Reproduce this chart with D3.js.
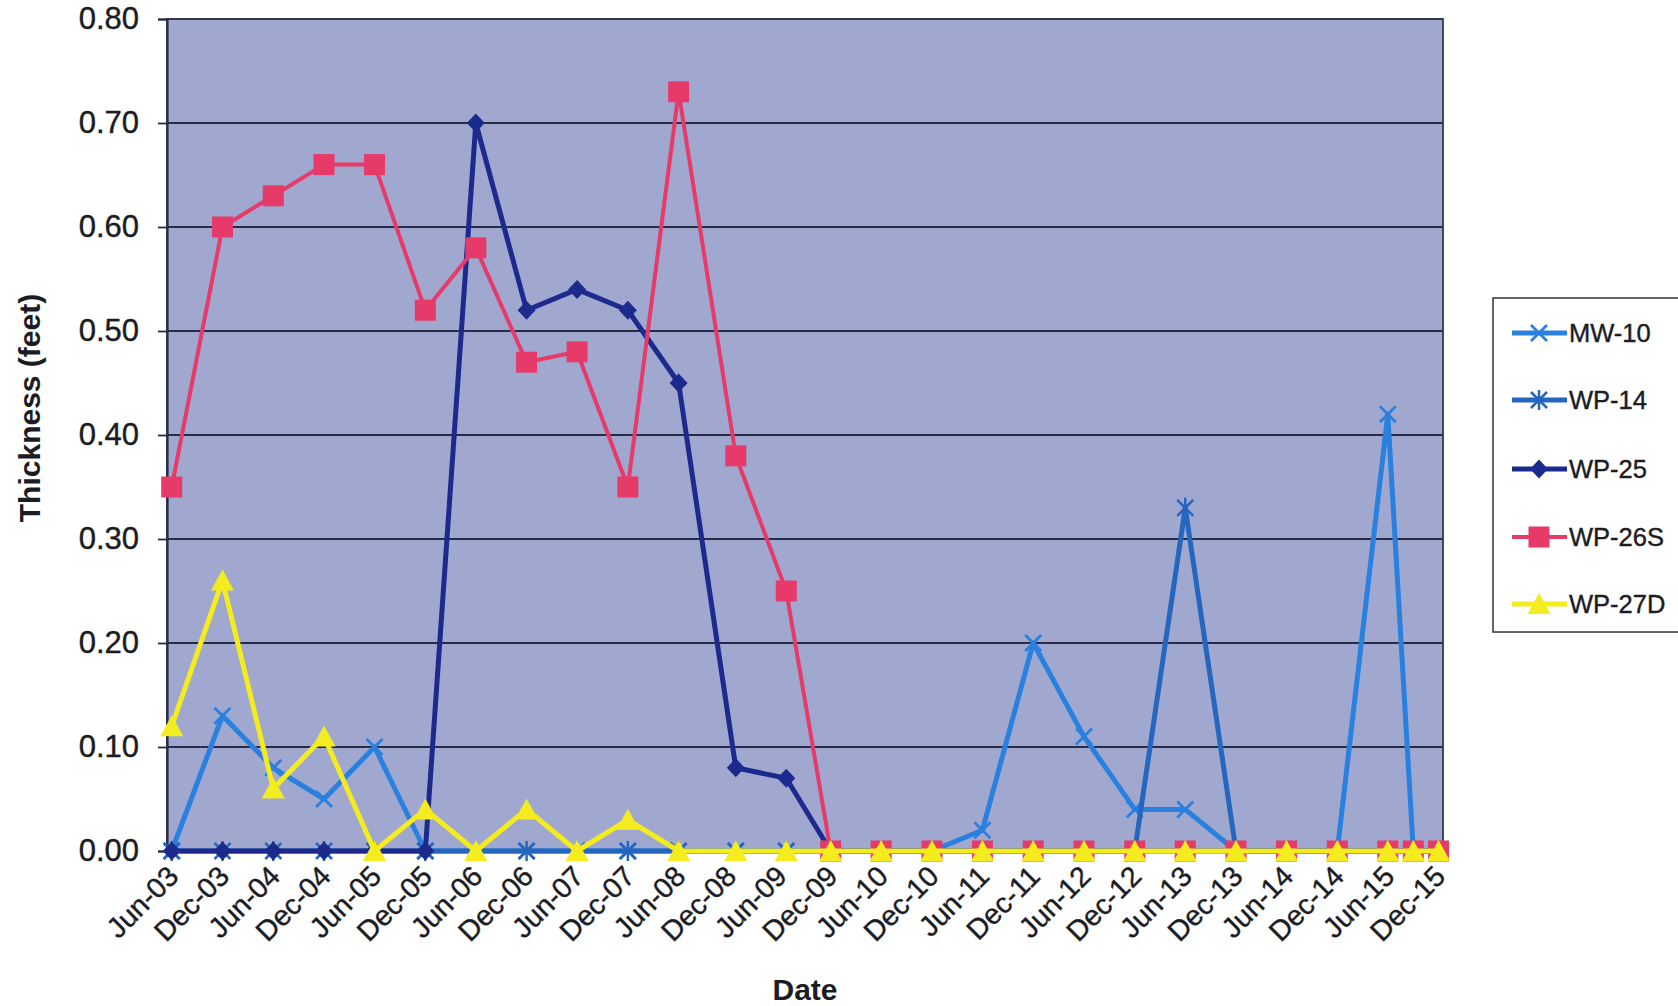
<!DOCTYPE html>
<html>
<head>
<meta charset="utf-8">
<script src="https://cdn.jsdelivr.net/npm/d3@7"></script>
<style>
  html, body { margin: 0; padding: 0; background: #ffffff; }
  svg { display: block; }
</style>
</head>
<body>
<svg id="chart" width="1678" height="1006"></svg>
<script>
// ---------------- DATA ----------------
const sampleDates = ["2003-06-01","2003-12-01","2004-06-01","2004-12-01","2005-06-01","2005-12-01",
  "2006-06-01","2006-12-01","2007-06-01","2007-12-01","2008-06-01","2008-12-24","2009-06-24",
  "2009-12-01","2010-06-01","2010-12-01","2011-06-01","2011-12-01","2012-06-01","2012-12-01",
  "2013-06-01","2013-12-01","2014-06-01","2014-12-01","2015-06-01","2015-09-01","2015-12-01"];

const mw10  = [0,0.13,0.08,0.05,0.10,0,0,0,0,0,0,0,0,0,0,0,0.02,0.20,0.11,0.04,0.04,0,0,0,0.42,0,0];
const wp14  = [0,0,0,0,0,0,0,0,0,0,0,0,0,0,0,0,0,0,0,0,0.33,0,0,0,0,0,0];
const wp25  = [0,0,0,0,0,0,0.70,0.52,0.54,0.52,0.45,0.08,0.07,0,0,0,0,0,0,0,0,0,0,0,0,0,0];
const wp26s = [0.35,0.60,0.63,0.66,0.66,0.52,0.58,0.47,0.48,0.35,0.73,0.38,0.25,0,0,0,0,0,0,0,0,0,0,0,0,0,0];
const wp27d = [0.12,0.26,0.06,0.11,0,0.04,0,0.04,0,0.03,0,0,0,0,0,0,0,0,0,0,0,0,0,0,0,0,0];

const seriesNames = ["MW-10","WP-14","WP-25","WP-26S","WP-27D"];
const xTickLabels = ["Jun-03","Dec-03","Jun-04","Dec-04","Jun-05","Dec-05","Jun-06","Dec-06",
  "Jun-07","Dec-07","Jun-08","Dec-08","Jun-09","Dec-09","Jun-10","Dec-10","Jun-11","Dec-11",
  "Jun-12","Dec-12","Jun-13","Dec-13","Jun-14","Dec-14","Jun-15","Dec-15"];
const yTicks = [0,0.10,0.20,0.30,0.40,0.50,0.60,0.70,0.80];
const xDomain = ["2003-05-15","2015-12-17"];

// ---------------- SETUP ----------------
const svg = d3.select("#chart");
const parseISO = d3.utcParse("%Y-%m-%d");
const parseTick = d3.utcParse("%b-%y");
const plot = {left: 167, right: 1443, top: 19, bottom: 851};

const x = d3.scaleUtc().domain(xDomain.map(parseISO)).range([plot.left, plot.right]);
const y = d3.scaleLinear().domain([0, 0.8]).range([plot.bottom, plot.top]);

const FONT = "'Liberation Sans', Arial, sans-serif";
const TEXT = "#1c1c24";
const styles = {
  "MW-10":  {color: "#2a80df", marker: "x",        width: 5},
  "WP-14":  {color: "#2566bf", marker: "asterisk", width: 5},
  "WP-25":  {color: "#1b2a8c", marker: "diamond",  width: 5},
  "WP-26S": {color: "#e63a68", marker: "square",   width: 4},
  "WP-27D": {color: "#f4ec1e", marker: "triangle", width: 5}
};

// plot background
svg.append("rect")
  .attr("x", plot.left).attr("y", plot.top)
  .attr("width", plot.right - plot.left).attr("height", plot.bottom - plot.top)
  .attr("fill", "#a0a8d0");

// gridlines
svg.append("g").selectAll("line").data(yTicks).join("line")
  .attr("x1", plot.left).attr("x2", plot.right)
  .attr("y1", d => y(d)).attr("y2", d => y(d))
  .attr("stroke", "#262b48").attr("stroke-width", 1.8);

// plot border
svg.append("rect")
  .attr("x", plot.left).attr("y", plot.top)
  .attr("width", plot.right - plot.left).attr("height", plot.bottom - plot.top)
  .attr("fill", "none").attr("stroke", "#353852").attr("stroke-width", 1.8);

// Y axis via d3.axisLeft
const yAxis = d3.axisLeft(y).tickValues(yTicks).tickFormat(d3.format(".2f")).tickSize(9).tickPadding(19);
const gy = svg.append("g").attr("transform", `translate(${plot.left},0)`).call(yAxis);
gy.select(".domain").attr("stroke", "#262b48").attr("stroke-width", 2.2);
gy.selectAll(".tick line").attr("stroke", "#262b48").attr("stroke-width", 1.8);
gy.selectAll(".tick text").attr("font-family", FONT).attr("font-size", 31).attr("fill", TEXT)
  .attr("stroke", TEXT).attr("stroke-width", 0.4);

// X axis labels (rotated)
const xAxis = d3.axisBottom(x).tickValues(xTickLabels.map(parseTick)).tickFormat(d3.utcFormat("%b-%y")).tickSize(0);
const gx = svg.append("g").attr("transform", `translate(0,${plot.bottom})`).call(xAxis);
gx.select(".domain").attr("stroke", "#262b48").attr("stroke-width", 1.8);
gx.selectAll(".tick text")
  .attr("font-family", FONT).attr("font-size", 28.5).attr("fill", TEXT)
  .attr("stroke", TEXT).attr("stroke-width", 0.4)
  .attr("text-anchor", "end")
  .attr("y", 0).attr("dy", 0)
  .attr("transform", "translate(8,27) rotate(-45)");

// marker drawing
function drawMarker(g, type, color) {
  if (type === "x") {
    g.append("path").attr("d", "M-8,-8L8,8M-8,8L8,-8")
      .attr("stroke", color).attr("stroke-width", 2.8).attr("fill", "none");
  } else if (type === "asterisk") {
    g.append("path").attr("d", "M-8,-8L8,8M-8,8L8,-8M0,-10L0,10")
      .attr("stroke", color).attr("stroke-width", 2.5).attr("fill", "none");
  } else if (type === "diamond") {
    g.append("path").attr("d", "M0,-9.5L9,0L0,9.5L-9,0Z").attr("fill", color);
  } else if (type === "square") {
    g.append("rect").attr("x", -10.5).attr("y", -10.5).attr("width", 21).attr("height", 21).attr("fill", color);
  } else if (type === "triangle") {
    g.append("path").attr("d", "M0,-11L11.5,10L-11.5,10Z").attr("fill", color);
  }
}

const allSeries = [mw10, wp14, wp25, wp26s, wp27d];
const dates = sampleDates.map(parseISO);
const line = d3.line().x(d => x(d.date)).y(d => y(d.value));

seriesNames.forEach((name, i) => {
  const st = styles[name];
  const pts = allSeries[i].map((v, j) => ({date: dates[j], value: v}));
  const g = svg.append("g").attr("class", "series");
  g.append("path").datum(pts).attr("d", line)
    .attr("fill", "none").attr("stroke", st.color).attr("stroke-width", st.width)
    .attr("stroke-linejoin", "round");
  pts.forEach(p => {
    const mg = g.append("g").attr("transform", `translate(${x(p.date)},${y(p.value)})`);
    drawMarker(mg, st.marker, st.color);
  });
});

// axis titles
svg.append("text").text("Date")
  .attr("x", 805).attr("y", 1000).attr("text-anchor", "middle")
  .attr("font-family", FONT).attr("font-weight", "bold").attr("font-size", 30).attr("fill", TEXT);
svg.append("text").text("Thickness (feet)")
  .attr("transform", "translate(40,408) rotate(-90)").attr("text-anchor", "middle")
  .attr("font-family", FONT).attr("font-weight", "bold").attr("font-size", 30).attr("fill", TEXT);

// legend
const lg = svg.append("g");
lg.append("rect").attr("x", 1493).attr("y", 298).attr("width", 210).attr("height", 334)
  .attr("fill", "#ffffff").attr("stroke", "#333").attr("stroke-width", 1.5);
const legendY = [333, 400, 469, 537, 604];
seriesNames.forEach((name, i) => {
  const st = styles[name];
  const row = lg.append("g").attr("transform", `translate(0,${legendY[i]})`);
  row.append("line").attr("x1", 1512).attr("x2", 1567).attr("y1", 0).attr("y2", 0)
    .attr("stroke", st.color).attr("stroke-width", st.width);
  const mg = row.append("g").attr("transform", "translate(1539,0)");
  drawMarker(mg, st.marker, st.color);
  row.append("text").text(name).attr("x", 1569).attr("y", 0).attr("dy", "0.36em")
    .attr("font-family", FONT).attr("font-size", 25.5).attr("fill", TEXT)
    .attr("stroke", TEXT).attr("stroke-width", 0.4);
});
</script>
</body>
</html>
